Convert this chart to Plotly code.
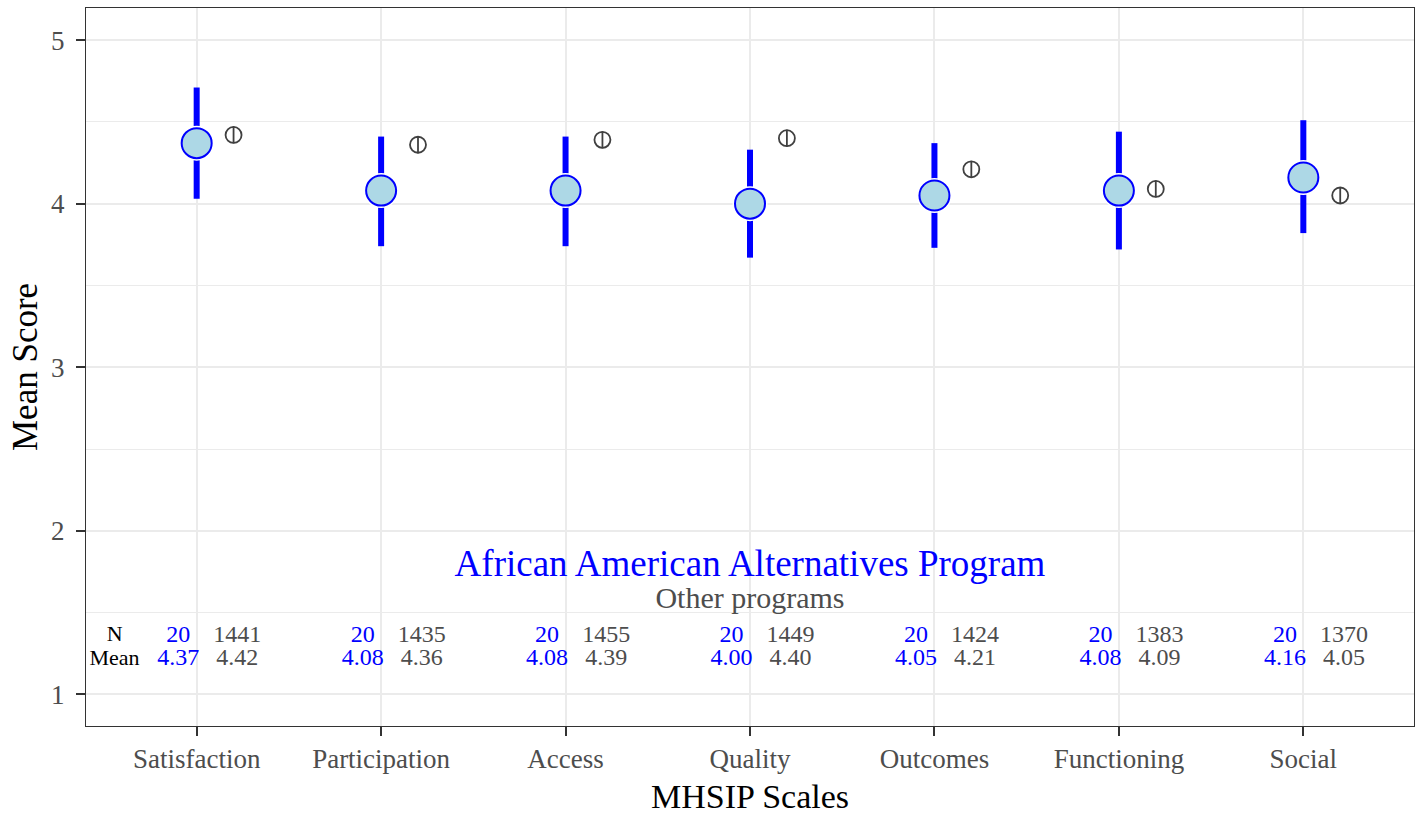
import plotly.graph_objects as go

categories = ["Satisfaction", "Participation", "Access", "Quality", "Outcomes", "Functioning", "Social"]
prog_n = [20, 20, 20, 20, 20, 20, 20]
prog_mean = [4.37, 4.08, 4.08, 4.00, 4.05, 4.08, 4.16]
prog_lower = [4.03, 3.74, 3.74, 3.67, 3.73, 3.72, 3.82]
prog_upper = [4.71, 4.41, 4.41, 4.33, 4.37, 4.44, 4.51]
other_n = [1441, 1435, 1455, 1449, 1424, 1383, 1370]
other_mean = [4.42, 4.36, 4.39, 4.40, 4.21, 4.09, 4.05]
y_ticks = [1, 2, 3, 4, 5]

program_name = "African American Alternatives Program"
other_name = "Other programs"

FONT = "Liberation Serif"
BLUE = "#0000FF"
GREY = "#4D4D4D"

xpos = list(range(len(categories)))
other_off = 0.2
lab_blue_off = -0.1
lab_grey_off = 0.22
row_n = 1.36
row_mean = 1.215

fig = go.Figure()

# error bars
ex, ey = [], []
for i, lo, hi in zip(xpos, prog_lower, prog_upper):
    ex += [i, i, None]
    ey += [lo, hi, None]
fig.add_trace(go.Scatter(x=ex, y=ey, mode="lines", line=dict(color=BLUE, width=6),
                         hoverinfo="skip", showlegend=False))

# white ring behind points
fig.add_trace(go.Scatter(x=xpos, y=prog_mean, mode="markers",
                         marker=dict(symbol="circle", size=35, color="white", line=dict(width=0)),
                         hoverinfo="skip", showlegend=False))
# program points
fig.add_trace(go.Scatter(x=xpos, y=prog_mean, mode="markers",
                         marker=dict(symbol="circle", size=30, color="#ADD8E6",
                                     line=dict(color=BLUE, width=2)),
                         showlegend=False))

# other programs markers
ox = [i + other_off for i in xpos]
fig.add_trace(go.Scatter(x=ox, y=other_mean, mode="markers",
                         marker=dict(symbol="circle-open", size=16, color="#404040",
                                     line=dict(color="#404040", width=1.8)),
                         showlegend=False))
fig.add_trace(go.Scatter(x=ox, y=other_mean, mode="markers",
                         marker=dict(symbol="line-ns-open", size=12, color="#404040",
                                     line=dict(color="#404040", width=1.8)),
                         showlegend=False))

# N / Mean labels
fig.add_trace(go.Scatter(x=[-0.445, -0.445], y=[row_n, row_mean], mode="text",
                         text=["N", "Mean"], textposition="middle center",
                         textfont=dict(family=FONT, size=22, color="black"),
                         hoverinfo="skip", showlegend=False))
bx = [i + lab_blue_off for i in xpos]
gx = [i + lab_grey_off for i in xpos]
fig.add_trace(go.Scatter(x=bx + bx, y=[row_n] * len(xpos) + [row_mean] * len(xpos), mode="text",
                         text=[str(n) for n in prog_n] + [f"{m:.2f}" for m in prog_mean],
                         textposition="middle center",
                         textfont=dict(family=FONT, size=24, color=BLUE),
                         hoverinfo="skip", showlegend=False))
fig.add_trace(go.Scatter(x=gx + gx, y=[row_n] * len(xpos) + [row_mean] * len(xpos), mode="text",
                         text=[str(n) for n in other_n] + [f"{m:.2f}" for m in other_mean],
                         textposition="middle center",
                         textfont=dict(family=FONT, size=24, color=GREY),
                         hoverinfo="skip", showlegend=False))

# legend-like titles
fig.add_trace(go.Scatter(x=[3], y=[1.78], mode="text", text=[program_name],
                         textposition="middle center",
                         textfont=dict(family=FONT, size=37, color=BLUE),
                         hoverinfo="skip", showlegend=False))
fig.add_trace(go.Scatter(x=[3], y=[1.575], mode="text", text=[other_name],
                         textposition="middle center",
                         textfont=dict(family=FONT, size=30, color=GREY),
                         hoverinfo="skip", showlegend=False))

L, R, T, B = 86, 10, 8, 89
plot_h = 815 - T - B
plot_w = 1424 - L - R

fig.update_layout(
    width=1424, height=815,
    margin=dict(l=L, r=R, t=T, b=B, autoexpand=False),
    plot_bgcolor="white", paper_bgcolor="white",
    font=dict(family=FONT),
    xaxis=dict(
        range=[-0.6, 6.6], tickmode="array", tickvals=xpos, ticktext=categories,
        showgrid=True, gridcolor="#EBEBEB", gridwidth=2, zeroline=False,
        showline=True, linecolor="#333333", linewidth=1, mirror=True,
        ticks="outside", ticklen=9, tickwidth=2, tickcolor="#333333",
        tickfont=dict(family=FONT, size=27, color=GREY),
        automargin=False,
    ),
    yaxis=dict(
        range=[0.807, 5.196], tickmode="array", tickvals=y_ticks,
        showgrid=True, gridcolor="#EBEBEB", gridwidth=2, zeroline=False,
        showline=True, linecolor="#333333", linewidth=1, mirror=True,
        ticks="outside", ticklen=9, tickwidth=2, tickcolor="#333333",
        tickfont=dict(family=FONT, size=27, color=GREY),
        ticklabelstandoff=6,
        minor=dict(dtick=0.5, tick0=0.5, showgrid=True, gridcolor="#EBEBEB", gridwidth=1, ticks=""),
        automargin=False,
    ),
    annotations=[
        dict(text="MHSIP Scales", xref="paper", yref="paper", x=0.5,
             y=-(796 - (815 - B)) / plot_h, xanchor="center", yanchor="middle",
             showarrow=False, font=dict(family=FONT, size=34, color="black")),
        dict(text="Mean Score", xref="paper", yref="paper", x=(25 - L) / plot_w,
             y=0.5, xanchor="center", yanchor="middle", textangle=-90,
             showarrow=False, font=dict(family=FONT, size=35, color="black")),
    ],
)

fig.write_html("out.html", config={"displayModeBar": False},
               post_script="document.body.style.margin='0';document.body.style.overflow='hidden';")
